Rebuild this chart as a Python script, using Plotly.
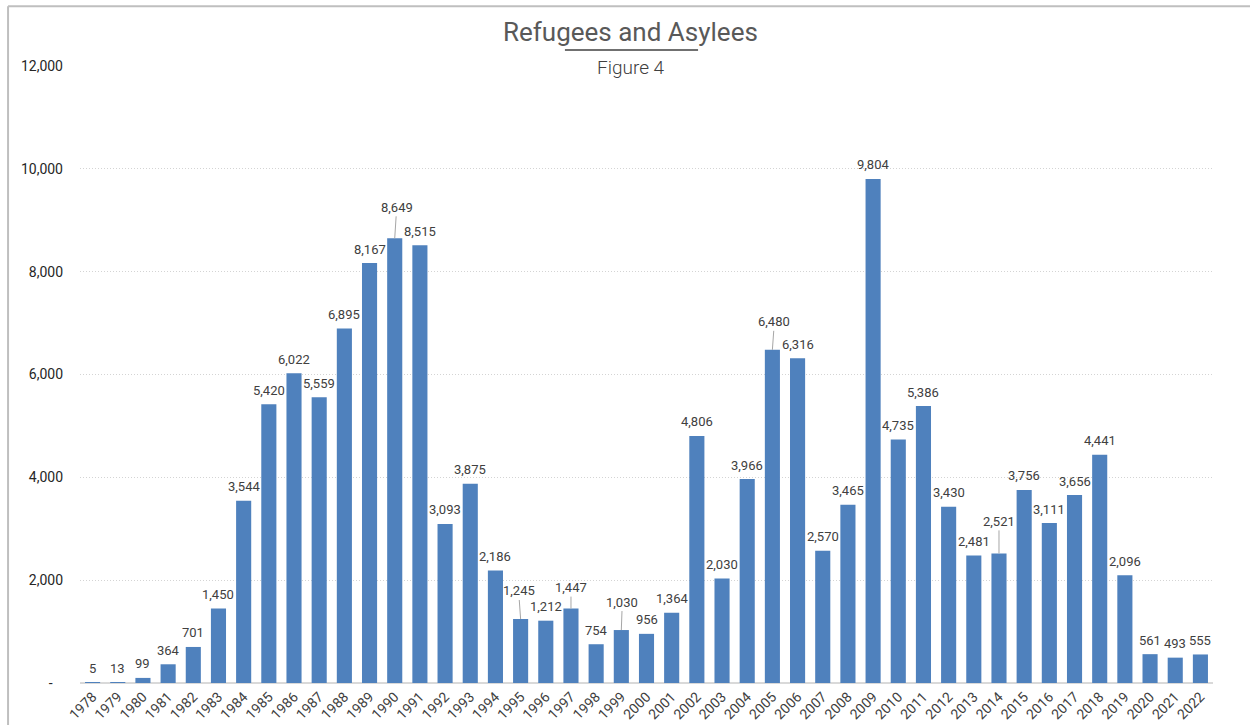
import plotly.graph_objects as go

years = [str(y) for y in range(1978, 2023)]
admissions = [5, 13, 99, 364, 701, 1450, 3544, 5420, 6022, 5559, 6895, 8167, 8649, 8515,
              3093, 3875, 2186, 1245, 1212, 1447, 754, 1030, 956, 1364, 4806, 2030, 3966,
              6480, 6316, 2570, 3465, 9804, 4735, 5386, 3430, 2481, 2521, 3756, 3111, 3656,
              4441, 2096, 561, 493, 555]

y_tickvals = [0, 2000, 4000, 6000, 8000, 10000, 12000]
y_ticktext = ["-\u00a0\u00a0\u00a0", "2,000", "4,000", "6,000", "8,000", "10,000", "12,000"]

# labels lifted off their bar with a short leader line: year -> (dx, dy) in px
leader_offsets = {"1990": (2, -31), "1995": (-2, -28), "1997": (0, -21),
                  "1999": (1, -28), "2005": (2, -28), "2014": (0, -32)}

BAR = "#4F81BD"
TXT = "#404040"
FONT = "Roboto"

fig = go.Figure(go.Bar(x=years, y=admissions, marker_color=BAR, marker_line_width=0))

annotations = []
for i, (yr, v) in enumerate(zip(years, admissions)):
    label = f"{v:,}"
    # category axis: annotations are placed by category index
    if yr in leader_offsets:
        dx, dy = leader_offsets[yr]
        annotations.append(dict(x=i, y=v, text=label, showarrow=True, arrowhead=0,
                                arrowwidth=1, arrowcolor="#a6a6a6", ax=dx, ay=dy,
                                standoff=0, font=dict(family=FONT, size=13, color=TXT)))
    else:
        annotations.append(dict(x=i, y=v, text=label, showarrow=False, yanchor="middle",
                                yshift=14, font=dict(family=FONT, size=13, color=TXT)))

# title block
annotations.append(dict(xref="paper", yref="paper", x=0.4863, y=1.055, text="Refugees and Asylees",
                        showarrow=False, xanchor="center", yanchor="middle",
                        font=dict(family=FONT, size=26, color="#595959")))
annotations.append(dict(xref="paper", yref="paper", x=0.4863, y=0.998, text="Figure 4",
                        showarrow=False, xanchor="center", yanchor="middle", bgcolor="white",
                        font=dict(family=FONT, size=19, color=TXT, weight=300)))

shapes = [
    # rule under the title
    dict(type="line", xref="paper", yref="paper", x0=0.428, x1=0.5455, y0=1.026, y1=1.026,
         line=dict(color="#404040", width=1.5)),
    # frame edges at top and left
    dict(type="line", xref="paper", yref="paper", x0=-0.0635, x1=1.05, y0=1.097, y1=1.097,
         line=dict(color="#bfbfbf", width=2)),
    dict(type="line", xref="paper", yref="paper", x0=-0.0635, x1=-0.0635, y0=1.097, y1=-0.08,
         line=dict(color="#bfbfbf", width=2)),
]

fig.update_layout(
    width=1250, height=725,
    margin=dict(l=80, r=37, t=66, b=42),
    paper_bgcolor="white", plot_bgcolor="white",
    bargap=0.4, showlegend=False,
    annotations=annotations, shapes=shapes,
    font=dict(family=FONT, color=TXT),
)
fig.update_xaxes(type="category", range=[-0.5, len(years) - 0.5], tickangle=-45,
                 tickfont=dict(family=FONT, size=14, color=TXT), automargin=False,
                 showgrid=False, showline=False, ticks="", ticklabelstandoff=2)
fig.update_yaxes(range=[0, 12000], tickvals=y_tickvals, ticktext=y_ticktext,
                 tickfont=dict(family=FONT, size=14, color="#262626"), automargin=False,
                 showgrid=True, gridcolor="#d4d4d4", griddash="1px,2px", gridwidth=1,
                 zeroline=True, zerolinecolor="#d9d9d9", zerolinewidth=1.5,
                 showline=False, ticks="", ticklabelstandoff=16)

fig.write_html("out.html")
